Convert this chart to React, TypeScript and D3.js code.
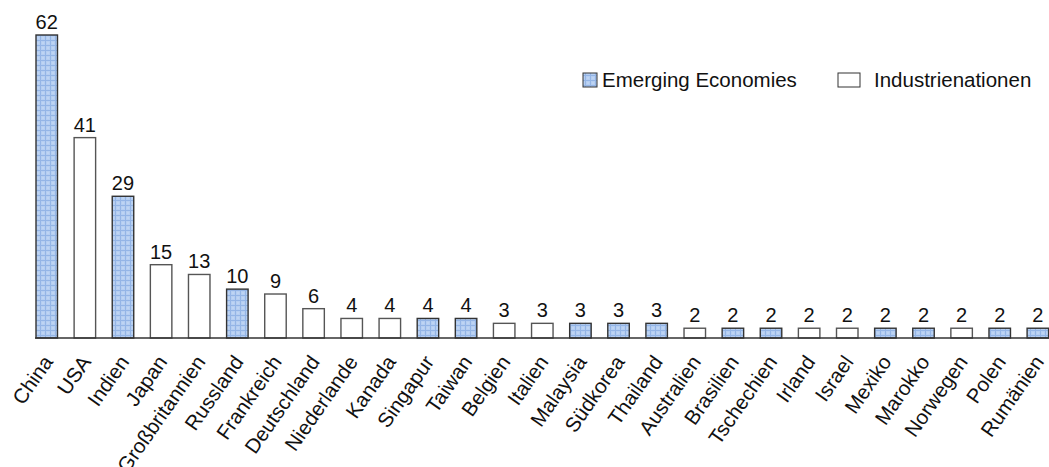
import React from "react";
import * as d3 from "d3";

const categories = ["China","USA","Indien","Japan","Großbritannien","Russland","Frankreich","Deutschland","Niederlande","Kanada","Singapur","Taiwan","Belgien","Italien","Malaysia","Südkorea","Thailand","Australien","Brasilien","Tschechien","Irland","Israel","Mexiko","Marokko","Norwegen","Polen","Rumänien"];
const values = [62,41,29,15,13,10,9,6,4,4,4,4,3,3,3,3,3,2,2,2,2,2,2,2,2,2,2];
const groups = ["E","I","E","I","I","E","I","I","I","I","E","E","I","I","E","E","E","I","E","E","I","I","E","E","I","E","E"];
const legendLabels = ["Emerging Economies", "Industrienationen"];

const W = 1049, H = 467;
const FONT = "'Liberation Sans', Arial, Helvetica, sans-serif";

export default function App() {
  const x = d3.scaleBand<string>().domain(categories).range([36, 1048.6]).paddingInner(0.436).paddingOuter(0);
  const y = d3.scaleLinear().domain([0, 62]).range([338, 35]);
  const bw = x.bandwidth();
  return (
    <svg width={W} height={H} style={{ position: "absolute", left: 0, top: 0, background: "#fff" }} fontFamily={FONT}>
      <defs>
        <pattern id="grid" width="5" height="5" patternUnits="userSpaceOnUse">
          <rect width="5" height="5" fill="#b5cef1" />
          <rect x="0" y="0" width="5" height="1" fill="#94b5e6" />
          <rect x="0" y="0" width="1" height="5" fill="#94b5e6" />
          <rect x="2.5" y="2.5" width="1" height="1" fill="#dbe8f9" />
        </pattern>
      </defs>
      <rect width={W} height={H} fill="#fff" />
      {categories.map((c, i) => {
        const x0 = x(c)!;
        const top = y(values[i]);
        const em = groups[i] === "E";
        return (
          <g key={c}>
            <rect x={x0} y={top} width={bw} height={y(0) - top}
              fill={em ? "url(#grid)" : "#fff"} stroke={em ? "#333" : "#555"} strokeWidth={1.4} />
            <text x={x0 + bw / 2} y={top - 6} textAnchor="middle" fontSize={20} fill="#111">{values[i]}</text>
            <text transform={`translate(${x0 + bw / 2 + 7},${362}) rotate(-55)`} textAnchor="end" fontSize={20.5} fill="#111">{c}</text>
          </g>
        );
      })}
      <line x1={35} x2={1049} y1={y(0)} y2={y(0)} stroke="#333" strokeWidth={1.5} />
      <g>
        <rect x={583} y={73} width={14} height={14} fill="url(#grid)" stroke="#333" strokeWidth={1} />
        <text x={602} y={87} fontSize={20.5} fill="#111">{legendLabels[0]}</text>
        <rect x={838} y={73} width={22} height={14} fill="#fff" stroke="#333" strokeWidth={1} />
        <text x={874} y={87} fontSize={20.5} fill="#111">{legendLabels[1]}</text>
      </g>
    </svg>
  );
}
